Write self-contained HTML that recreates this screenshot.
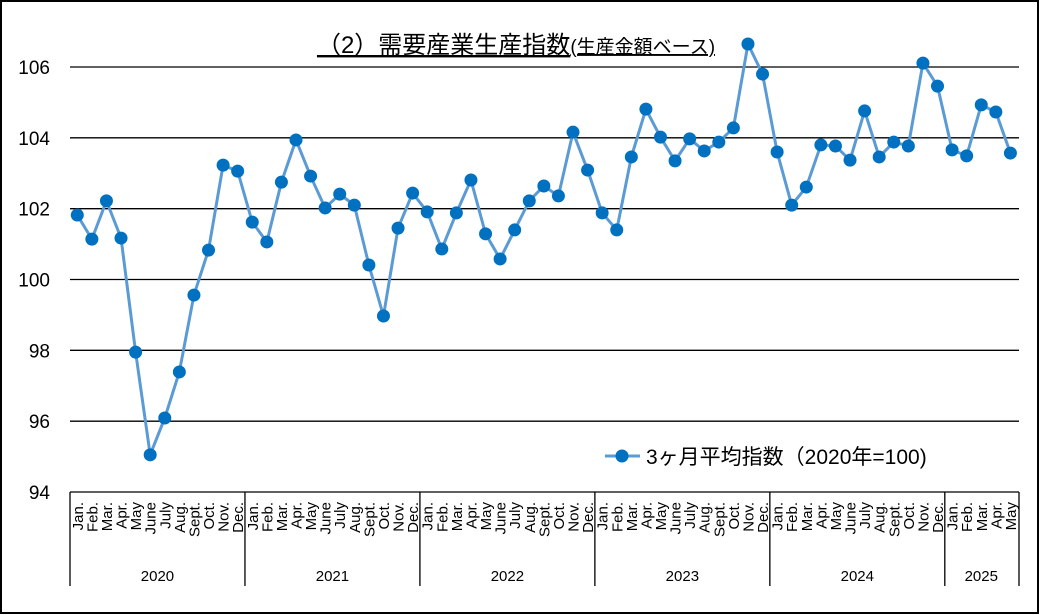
<!DOCTYPE html>
<html><head><meta charset="utf-8"><style>
body{margin:0;background:#fff}
svg{display:block;font-family:"Liberation Sans","Noto Sans CJK JP",sans-serif}
</style></head><body>
<svg id="c" width="1040" height="615">
<rect x="1" y="1" width="1037" height="612" fill="#fff" stroke="#000" stroke-width="2"/>
<text x="516" y="53" text-anchor="middle" font-size="24" text-decoration="underline">（2）需要産業生産指数<tspan font-size="19">(生産金額ベース)</tspan></text>
<g id="grid"></g><g id="axes"></g><g id="series"></g>
<g>
<line x1="605" y1="456" x2="640" y2="456" stroke="#5b9bd5" stroke-width="3"/>
<circle cx="622" cy="456" r="6.5" fill="#0070c0"/>
<text x="646" y="464" font-size="21">3ヶ月平均指数（2020年=100)</text>
</g>
</svg>
<script>
const years=["2020","2021","2022","2023","2024","2025"];
const months=["Jan.","Feb.","Mar.","Apr.","May","June","July","Aug.","Sept.","Oct.","Nov.","Dec."];
const yTicks=[94,96,98,100,102,104,106];
const values=[101.82,101.14,102.22,101.17,97.95,95.05,96.09,97.39,99.56,100.83,103.23,103.06,
101.62,101.06,102.75,103.94,102.92,102.02,102.41,102.10,100.41,98.97,101.45,102.44,
101.91,100.86,101.88,102.81,101.29,100.58,101.40,102.22,102.64,102.36,104.16,103.09,
101.88,101.40,103.46,104.81,104.02,103.35,103.97,103.63,103.88,104.28,106.65,105.80,
103.60,102.10,102.61,103.80,103.77,103.37,104.76,103.46,103.88,103.77,106.11,105.46,
103.66,103.49,104.93,104.73,103.57];
const NS="http://www.w3.org/2000/svg";
const L=70,W=14.58,T=67,B=492,ymin=94,ymax=106;
const xs=i=>L+W*(i+0.5);
const ys=v=>B-(v-ymin)/(ymax-ymin)*(B-T);
function mk(p,tag,a){const e=document.createElementNS(NS,tag);for(const k in a)e.setAttribute(k,a[k]);p.appendChild(e);return e;}
const grid=document.getElementById('grid'),axes=document.getElementById('axes'),ser=document.getElementById('series');
yTicks.forEach(t=>{
 const y=ys(t);
 const g=mk(grid,'line',{x1:L,x2:1019,y1:y,y2:y,stroke:'#000','stroke-width':1.3});
 
 
 const tx=mk(axes,'text',{x:50,y:y+7,'text-anchor':'end','font-size':19});
 tx.textContent=t;
 
 
});
values.forEach((v,i)=>{
 const m=months[i%12];
 const tx=mk(axes,'text',{transform:`translate(${xs(i)+5.5},502) rotate(-90)`,'text-anchor':'end','font-size':15});
 tx.textContent=m;
 
 
});
years.forEach((y,k)=>{
 const n=Math.min(12,values.length-k*12);
 const x0=L+W*12*k;
 const ln=mk(axes,'line',{x1:x0,x2:x0,y1:B,y2:586,stroke:'#000','stroke-width':1.3});
 
 
 const tx=mk(axes,'text',{x:x0+W*n/2,y:581,'text-anchor':'middle','font-size':15});
 tx.textContent=y;
 
 
});
const lnEnd=mk(axes,'line',{x1:1019,x2:1019,y1:B,y2:586,stroke:'#000','stroke-width':1.3});


const pl=mk(ser,'polyline',{points:values.map((v,i)=>xs(i)+','+ys(v)).join(' '),fill:'none',stroke:'#5b9bd5','stroke-width':3});


values.forEach((v,i)=>{
 const c=mk(ser,'circle',{cx:xs(i),cy:ys(v),r:6.5,fill:'#0070c0'});
 
 
});
</script>
</body></html>
